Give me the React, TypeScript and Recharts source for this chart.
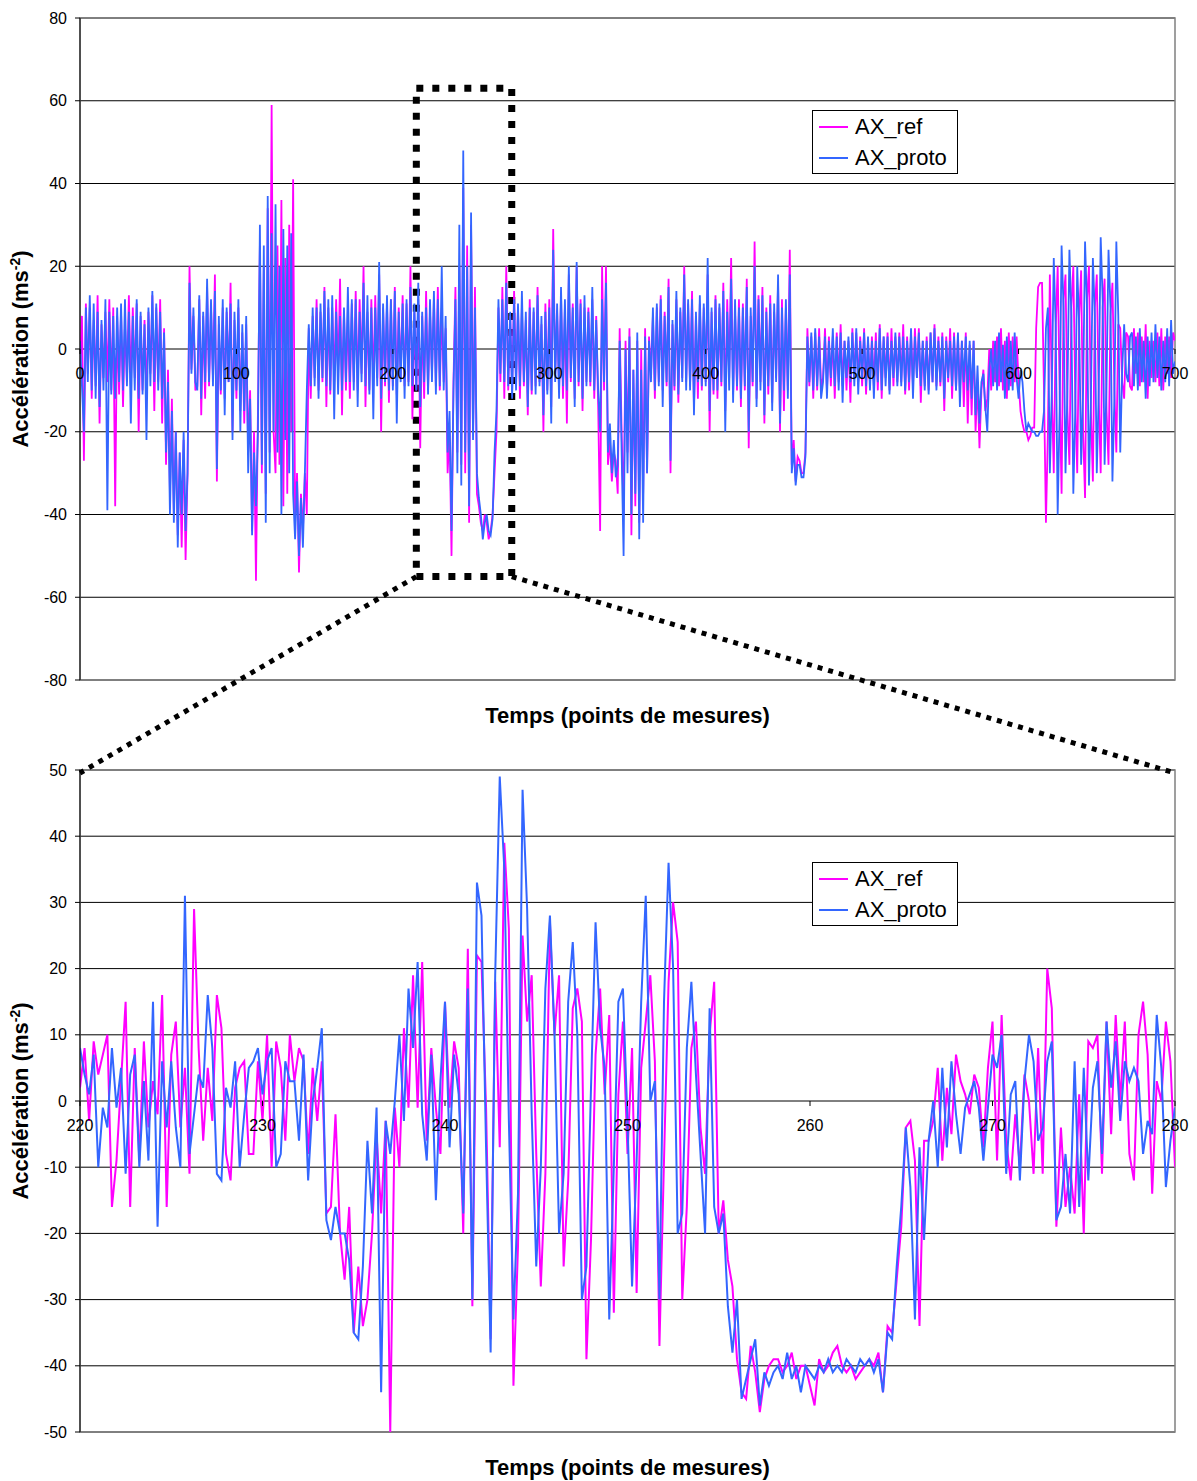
import React from "react";
import {
  CartesianGrid, Legend, Line, LineChart, ReferenceArea, ReferenceDot, XAxis, YAxis,
} from "recharts";

const FONT = '"Liberation Sans", Arial, sans-serif';
const REF_COLOR = "#FF00FF";
const PROTO_COLOR = "#3366FF";

// --- vue d'ensemble : 0..700, un point tous les 1.25 ---
const overviewStep = 1.25;
const overviewRef = [
  -5, 8, -27, 11, -6, 10, -12, 7, -9, 13, -18, 6, -7, 9, -8, 12, -10, 10, -38, 8,
  -11, 9, -14, 6, -8, 13, -9, 10, -7, 11, -20, 8, -10, 7, -12, 9, -6, 13, -15, 10,
  -8, 12, -18, 5, -28, -5, -35, -12, -40, -20, -45, -25, -48, -22, -51, -30, 20, -5, 8, -10,
  -9, 12, -16, 8, -12, 15, -9, 10, -7, 18, -32, 6, -11, 10, -12, 9, -8, 16, -20, 7,
  -12, 10, -15, 4, -18, 6, -25, -10, -44, -20, -56, -15, 25, -30, 20, -35, 34, -25, 59, -20,
  -30, 25, -28, 36, -38, 22, -35, 30, -20, 41, -42, -30, -54, -35, -44, -30, -40, 5, -12, 8,
  -7, 12, -10, 9, -8, 15, -14, 10, -11, 10, -8, 12, -6, 17, -16, 9, -10, 9, -12, 11,
  -8, 14, -10, 12, -6, 20, -14, 9, -10, 12, -9, 13, -7, 18, -20, 10, -9, 11, -13, 12,
  -9, 15, -11, 10, -7, 13, -9, 11, -8, 20, -17, 9, -10, 12, -24, 8, -12, 14, -10, 9,
  -6, 12, -9, 15, -10, 10, -8, 5, -30, -20, -50, -8, 15, -25, 20, -28, 39, -30, 25, -42,
  30, -20, 15, -35, -38, -42, -44, -40, -42, -46, -44, -40, -30, -20, 10, -8, 15, -12, 20, -10,
  8, -10, 14, -8, 10, -12, 10, -9, 7, -16, 12, -11, 9, -9, 15, -8, 6, -20, 11, -10,
  12, -14, 29, -6, 9, -10, 13, -12, 10, -18, 18, -8, 11, -12, 20, -9, 12, -15, 10, -8,
  10, -9, 12, -12, 8, -14, -44, 20, -10, 20, -28, -22, -32, -25, -27, -35, 5, -20, -40, 2,
  -25, 5, -45, -5, -38, 2, -42, 0, -35, 5, -30, 3, -6, 8, -12, 10, -8, 13, -10, 9,
  -9, 17, -30, 6, -10, 12, -13, 9, -7, 20, -8, 11, -9, 14, -14, 8, -12, 11, -10, 10,
  -8, 18, -20, 9, -11, 13, -12, 10, -9, 16, -15, 12, -7, 22, -11, 9, -10, 12, -14, 11,
  -10, 17, -24, 8, -9, 26, -12, 13, -8, 15, -18, 10, -11, 13, -13, 9, -7, 16, -20, 12,
  -15, 10, -10, 24, -28, -22, -32, -26, -27, -30, -30, -25, 5, -9, 3, -12, 4, -10, 5, -9,
  -7, 5, -10, 3, -9, 3, -12, 4, -8, 6, -9, 2, -10, 2, -13, 5, -7, 4, -8, 3,
  -9, 5, -11, 2, -8, 3, -9, 4, -10, 6, -12, 3, -7, 4, -10, 5, -9, 3, -8, 4,
  -8, 6, -11, 3, -10, 4, -9, 5, -7, 5, -13, 2, -9, 3, -10, 4, -8, 6, -9, 3,
  -9, 4, -15, 3, -8, 5, -12, 4, -10, 3, -10, 2, -14, 4, -18, 1, -16, 2, -20, -8,
  -24, -10, -5, -15, -12, 0, -10, 2, -8, 3, -9, 5, -10, 2, -12, 4, -9, 3, -8, 3,
  -8, -15, -18, -20, -20, -22, -21, -19, -19, 5, 15, 16, 16, -10, -42, -20, 18, -10, -30, 5,
  20, -10, -35, 12, 18, -15, -28, 10, 20, -12, -30, 8, 19, -20, -36, 12, 20, -15, -32, 10,
  18, -12, -30, 10, 17, -15, -28, 8, 16, -10, -25, 6, 5, -8, -12, 4, 3, -9, -10, 5,
  -6, 4, -9, 3, -8, 6, -12, 2, -7, 2, -8, 4, -9, 5, -10, 3, -6, 3, -7, 4,
  2,
];
const overviewProto = [
  2, -9, -20, 10, -8, 13, -10, 11, -12, 9, -14, 7, -10, 12, -39, 9, -11, 8, -12, 10,
  -8, 11, -10, 12, -9, 9, -18, 8, -10, 12, -12, 9, -11, 6, -22, 10, -9, 14, -8, 11,
  -10, 9, -12, 4, -25, -8, -40, -15, -42, -20, -48, -25, -40, -20, -44, -30, 16, -6, 10, -8,
  -10, 13, -12, 9, -8, 17, -8, 12, -9, 14, -29, 8, -10, 12, -16, 10, -8, 11, -22, 9,
  -10, 12, -20, 6, -15, 8, -30, -12, -45, -25, -38, -20, 30, -28, 25, -42, 37, -30, 28, -20,
  35, -25, 20, -40, 29, -22, 25, -30, 28, -35, -46, -32, -50, -36, -48, -30, -10, 6, -9, 10,
  -9, 10, -12, 11, -7, 14, -9, 12, -10, 13, -17, 9, -11, 8, -10, 10, -8, 15, -8, 12,
  -10, 12, -14, 9, -8, 16, -9, 13, -11, 10, -17, 10, -9, 21, -12, 11, -8, 13, -10, 12,
  -10, 14, -18, 9, -8, 11, -12, 12, -9, 15, -9, 11, -10, 16, -14, 9, -8, 10, -11, 12,
  -8, 14, -11, 12, -9, 20, -10, 8, -25, -15, -44, -10, 12, -30, 30, -33, 48, -25, 20, -38,
  33, -22, 10, -30, -36, -40, -46, -42, -40, -44, -45, -41, -25, -15, 12, -6, 12, -8, 16, -9,
  9, -12, 12, -10, 11, -9, 14, -8, 9, -14, 10, -10, 10, -11, 13, -9, 8, -16, 9, -11,
  10, -18, 24, -8, 11, -12, 15, -9, 12, -10, 20, -7, 10, -14, 21, -8, 11, -12, 13, -9,
  9, -8, 15, -10, 7, -10, -20, 12, -8, 16, -25, -18, -30, -22, -31, -28, 2, -25, -50, 0,
  -30, 3, -40, -5, -35, 4, -46, -5, -42, 3, -30, 2, -8, 10, -10, 11, -9, 12, -14, 8,
  -8, 15, -27, 7, -9, 14, -11, 10, -8, 18, -10, 12, -10, 12, -16, 9, -8, 13, -9, 11,
  -9, 22, -15, 10, -10, 12, -10, 11, -8, 14, -20, 9, -10, 17, -13, 12, -9, 10, -12, 10,
  -9, 15, -20, 10, -8, 20, -14, 12, -10, 13, -16, 9, -9, 11, -15, 11, -8, 18, -18, 10,
  -10, 12, -12, 18, -30, -24, -33, -28, -28, -31, -31, -26, 3, -8, 4, -10, 5, -9, 3, -12,
  -8, 3, -12, 2, -7, 5, -9, 3, -10, 4, -13, 2, -7, 3, -8, 4, -9, 5, -11, 2,
  -7, 4, -9, 3, -10, 2, -12, 2, -8, 5, -10, 3, -9, 3, -11, 2, -7, 4, -9, 3,
  -9, 3, -10, 2, -8, 5, -12, 3, -7, 4, -9, 2, -10, 2, -11, 4, -8, 5, -10, 2,
  -8, 3, -12, 2, -7, 2, -9, 3, -10, 4, -14, 2, -8, 3, -10, 2, -12, 2, -16, -4,
  -18, -8, -6, -14, -20, -5, 0, -9, 2, -10, 4, -8, 1, -12, 3, -10, 2, -10, 4, -7,
  -12, -5, -8, -15, -20, -18, -19, -20, -20, -21, -21, -20, -20, -15, 5, 10, -30, -10, 22, 5,
  -40, -15, 25, 10, -30, -10, 24, 8, -35, -15, 20, 5, -28, -10, 26, 10, -33, -12, 22, 8,
  -30, -10, 27, 12, -28, -8, 24, 10, -32, -12, 26, 8, -25, -5, 6, -6, -8, 3, 4, -9,
  3, -10, 5, -8, 2, -12, 3, -9, 4, -8, 6, -7, 3, -10, 2, -8, 5, -9, 7, -6,
  -3,
];
const overviewTicksX = [0, 100, 200, 300, 400, 500, 600, 700];
const overviewTicksY = [-80, -60, -40, -20, 0, 20, 40, 60, 80];

// --- zoom : 220..280, un point tous les 0.25 ---
const zoomStart = 220;
const zoomStep = 0.25;
const zoomRef = [
  2, 8, -3, 9, 4, 7, 10, -16,
  -9, 3, 15, -16, 8, -9, 9, -4,
  3, -2, 16, -16, 7, 12, -4, 5,
  -11, 29, 8, -6, 5, -3, 16, 11,
  -8, -12, 2, 5, 6, -8, -8, 6,
  -3, 10, -10, 9, 5, -6, 10, 3,
  8, 6, -8, 5, -3, 6, -17, -16,
  -2, -20, -27, -16, -35, -25, -34, -30,
  -20, -5, -17, -3, -50, -1, -10, 11,
  -1, 19, -1, 21, -6, 8, -1, -8,
  15, -1, 9, 5, -20, 23, -31, 22,
  21, -1, -36, 18, -7, 39, 26, -43,
  -22, 25, 12, 19, -8, -28, -11, 27,
  10, 19, -25, -12, 14, 17, 12, -39,
  -21, 7, 17, 1, 13, -32, 1, 12,
  -8, 8, -29, 5, 12, 19, 6, -37,
  -9, 18, 30, 24, -30, -16, 8, 12,
  -4, -11, 10, 18, -20, -15, -24, -28,
  -39, -44, -45, -37, -41, -47, -42, -40,
  -39, -39, -41, -40, -38, -42, -40, -40,
  -43, -46, -39, -41, -40, -38, -37, -40,
  -41, -40, -42, -41, -40, -39, -40, -38,
  -44, -34, -35, -27, -19, -4, -3, -9,
  -34, -6, -6, -3, 5, -9, 2, -5,
  7, 3, 1, -2, 4, 2, -7, 5,
  12, -9, 13, -6, -12, -2, -10, 4,
  0, -11, 8, -11, 20, 14, -19, -4,
  -16, -10, -17, 1, -20, 9, 8, 10,
  -11, 12, -5, 13, 0, 12, -8, -12,
  10, 15, 7, -14, 3, 0, 12, 6,
  -10,
];
const zoomProto = [
  8, 4, 1, 7, -10, -1, -4, 8,
  -1, 5, -11, 4, 7, -10, 3, -9,
  15, -19, 6, -4, 6, -4, -10, 31,
  -8, -2, 4, 2, 16, 8, -11, -12,
  2, -1, 6, -10, -2, 5, 6, 8,
  1, 6, 8, -10, -8, 6, 3, 3,
  -6, 7, -12, 0, 5, 11, -18, -21,
  -16, -20, -20, -24, -35, -36, -25, -6,
  -17, -1, -44, -3, -8, 0, 10, -3,
  17, 8, 21, -2, -9, 7, -15, 3,
  15, -7, 7, 1, -17, 17, -30, 33,
  28, -7, -38, 19, 49, 35, -3, -33,
  -14, 47, 29, -2, -25, -10, 17, 28,
  10, -20, -11, 15, 24, 10, -30, -25,
  2, 27, 11, 5, -33, -10, 15, 17,
  -3, -28, -9, 15, 31, 0, 3, -30,
  15, 36, 20, -20, -17, 8, 18, 4,
  -8, -20, 14, -16, -20, -17, -31, -38,
  -30, -45, -42, -39, -36, -46, -41, -43,
  -41, -40, -42, -38, -42, -40, -44, -40,
  -41, -42, -40, -41, -39, -41, -40, -41,
  -39, -40, -41, -39, -40, -39, -41, -39,
  -44, -35, -36, -25, -16, -4, -13, -33,
  -7, -21, -6, 0, -10, 5, -7, 6,
  -2, -8, -1, 1, 3, -1, -9, -1,
  7, 5, 10, -11, 1, 3, -12, 3,
  10, 6, -6, -4, 6, 9, -18, -16,
  -8, -17, 6, -16, 5, -12, 2, 6,
  -8, 12, 2, 9, -3, 6, 3, 5,
  3, -8, -3, -5, 13, 5, -13, -6,
  -1,
];
const zoomTicksX = [220, 230, 240, 250, 260, 270, 280];
const zoomTicksY = [-50, -40, -30, -20, -10, 0, 10, 20, 30, 40, 50];

const legendOrder = ["AX_ref", "AX_proto"];

// fenêtre agrandie, telle que tracée sur la vue d'ensemble
const zoomWindow = { x1: 215, x2: 276, y1: -55, y2: 63 };

const overviewData = overviewRef.map((v, i) => ({
  t: i * overviewStep, ref: v, proto: overviewProto[i],
}));
const zoomData = zoomRef.map((v, i) => ({
  t: zoomStart + i * zoomStep, ref: v, proto: zoomProto[i],
}));

// géométrie commune aux deux graphiques
const W = 1197;
const CHART_H = 700;
const PLOT_LEFT = 80;
const PLOT_RIGHT = 1175;
const PLOT_TOP = 18;
const PLOT_H = 662;
const BOTTOM_CHART_TOP = 752;

function topPx(x: number, y: number) {
  const [x0, x1] = [overviewTicksX[0], overviewTicksX[overviewTicksX.length - 1]];
  const [y0, y1] = [overviewTicksY[0], overviewTicksY[overviewTicksY.length - 1]];
  return {
    x: PLOT_LEFT + ((x - x0) / (x1 - x0)) * (PLOT_RIGHT - PLOT_LEFT),
    y: PLOT_TOP + ((y1 - y) / (y1 - y0)) * PLOT_H,
  };
}

const xTickShape = (label: number) => (p: any) => (
  <g>
    <line x1={p.cx} x2={p.cx} y1={p.cy} y2={p.cy + 5} stroke="#000" />
    <text x={p.cx} y={p.cy + 30} textAnchor="middle" fontSize={16} fontFamily={FONT} fill="#000">
      {label}
    </text>
  </g>
);

function LegendBox({ payload }: any) {
  const items = [...(payload || [])].sort(
    (a: any, b: any) => legendOrder.indexOf(a.value) - legendOrder.indexOf(b.value),
  );
  return (
    <div
      style={{
        border: "1px solid #000", background: "#fff", width: 146, height: 64,
        boxSizing: "border-box", padding: "0 0 0 6px", fontFamily: FONT,
      }}
    >
      {items.map((e: any) => (
        <div key={e.value} style={{ display: "flex", alignItems: "center", height: 31 }}>
          <span style={{ display: "inline-block", width: 29, height: 0, borderTop: `2px solid ${e.color}`, marginRight: 7 }} />
          <span style={{ fontSize: 22, color: "#000", lineHeight: "31px" }}>{e.value}</span>
        </div>
      ))}
    </div>
  );
}

function AccelChart({
  data, xTicks, yTicks, lineWidth, children,
}: {
  data: { t: number; ref: number; proto: number }[];
  xTicks: number[];
  yTicks: number[];
  lineWidth: number;
  children?: React.ReactNode;
}) {
  const xd: [number, number] = [xTicks[0], xTicks[xTicks.length - 1]];
  const yd: [number, number] = [yTicks[0], yTicks[yTicks.length - 1]];
  return (
    <LineChart
      width={W}
      height={CHART_H}
      data={data}
      margin={{ top: PLOT_TOP, right: W - PLOT_RIGHT, bottom: CHART_H - PLOT_TOP - PLOT_H, left: PLOT_LEFT - 50 }}
    >
      <CartesianGrid vertical={false} stroke="#000" />
      <ReferenceArea x1={xd[0]} x2={xd[1]} y1={yd[0]} y2={yd[1]} fill="none" stroke="#808080" strokeWidth={1.5} />
      <XAxis type="number" dataKey="t" domain={xd} ticks={xTicks} hide allowDataOverflow />
      <YAxis
        type="number"
        domain={yd}
        ticks={yTicks}
        width={50}
        interval={0}
        allowDataOverflow
        axisLine={{ stroke: "#000" }}
        tickLine={{ stroke: "#000" }}
        tickSize={5}
        tickMargin={8}
        tick={{ fill: "#000", fontSize: 16, fontFamily: FONT }}
      />
      {xTicks.map((t) => (
        <ReferenceDot key={t} x={t} y={0} r={2} shape={xTickShape(t)} />
      ))}
      <Line type="linear" dataKey="ref" name="AX_ref" stroke={REF_COLOR} strokeWidth={lineWidth} dot={false} activeDot={false} isAnimationActive={false} />
      <Line type="linear" dataKey="proto" name="AX_proto" stroke={PROTO_COLOR} strokeWidth={lineWidth} dot={false} activeDot={false} isAnimationActive={false} />
      <Legend
        layout="horizontal"
        align="center"
        verticalAlign="middle"
        content={<LegendBox />}
        wrapperStyle={{ top: 110, left: 812, width: 146, height: 64 }}
      />
      {children}
    </LineChart>
  );
}

function AxisTitles({ top }: { top: number }) {
  const cy = top + PLOT_TOP + PLOT_H / 2;
  return (
    <>
      <text
        x={28}
        y={cy}
        transform={`rotate(-90, 28, ${cy})`}
        textAnchor="middle"
        fontSize={22}
        fontWeight="bold"
        fontFamily={FONT}
        fill="#000"
      >
        Accélération (ms
        <tspan dy={-8} fontSize={14}>-2</tspan>
        <tspan dy={8}>)</tspan>
      </text>
      <text
        x={(PLOT_LEFT + PLOT_RIGHT) / 2}
        y={top + PLOT_TOP + PLOT_H + 43}
        textAnchor="middle"
        fontSize={22}
        fontWeight="bold"
        fontFamily={FONT}
        fill="#000"
      >
        Temps (points de mesures)
      </text>
    </>
  );
}

export default function App() {
  const a = topPx(zoomWindow.x1, zoomWindow.y1);
  const b = topPx(zoomWindow.x2, zoomWindow.y1);
  const z = BOTTOM_CHART_TOP + PLOT_TOP;
  return (
    <div
      style={{
        position: "absolute", left: 0, top: 0, width: W, height: 1481,
        overflow: "hidden", background: "#fff", fontFamily: FONT,
      }}
    >
      <div style={{ position: "absolute", left: 0, top: 0 }}>
        <AccelChart data={overviewData} xTicks={overviewTicksX} yTicks={overviewTicksY} lineWidth={1.8}>
          <ReferenceArea
            x1={zoomWindow.x1}
            x2={zoomWindow.x2}
            y1={zoomWindow.y1}
            y2={zoomWindow.y2}
            fill="none"
            stroke="#000"
            strokeWidth={7}
            strokeDasharray="7 9"
          />
        </AccelChart>
      </div>
      <div style={{ position: "absolute", left: 0, top: BOTTOM_CHART_TOP }}>
        <AccelChart data={zoomData} xTicks={zoomTicksX} yTicks={zoomTicksY} lineWidth={2} />
      </div>
      <svg
        width={W}
        height={1481}
        style={{ position: "absolute", left: 0, top: 0, pointerEvents: "none" }}
      >
        <line x1={a.x} y1={a.y} x2={PLOT_LEFT} y2={z + 3} stroke="#000" strokeWidth={5} strokeDasharray="5 6" />
        <line x1={b.x} y1={b.y} x2={PLOT_RIGHT} y2={z + 3} stroke="#000" strokeWidth={5} strokeDasharray="5 6" />
        <AxisTitles top={0} />
        <AxisTitles top={BOTTOM_CHART_TOP} />
      </svg>
    </div>
  );
}
